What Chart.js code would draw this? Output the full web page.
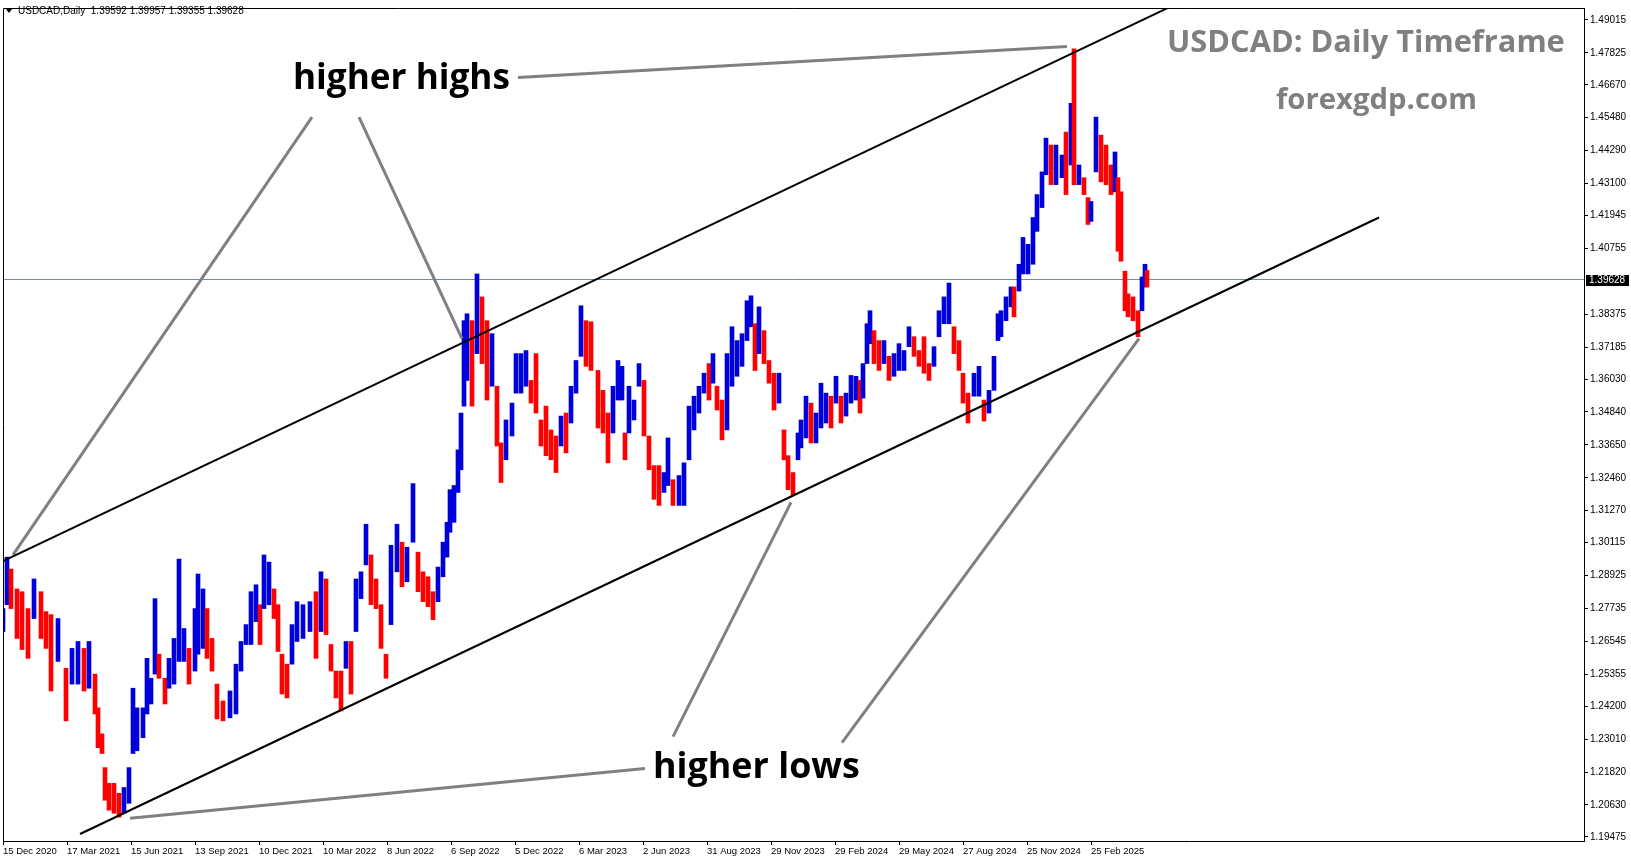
<!DOCTYPE html>
<html>
<head>
<meta charset="utf-8">
<title>USDCAD Daily</title>
<script src="https://cdn.jsdelivr.net/npm/chart.js@4.4.1/dist/chart.umd.min.js"></script>
<style>
  html, body { margin:0; padding:0; background:#fff; }
  #wrap { width:1631px; height:861px; }
</style>
</head>
<body>
<div id="wrap"><canvas id="chart" width="1631" height="861"></canvas></div>
<script>
// bar index = trading days since 15 Dec 2020, prices
const barIndex = [0,4,8,14,19,25,31,38,43,48,55,63,69,75,81,86,92,95,99,102,106,111,116,121,126,130,134,140,144,148,152,156,162,166,171,176,181,186,192,195,200,204,209,214,220,227,233,238,243,248,253,257,261,266,271,275,279,284,289,294,300,307,313,318,323,328,333,338,343,348,353,358,363,368,373,378,383,388,394,399,404,410,415,420,425,430,435,440,444,447,451,455,458,461,464,469,474,479,484,489,494,498,503,509,513,518,523,528,533,538,543,548,553,558,563,568,573,578,583,588,595,600,605,610,615,619,622,626,631,636,641,646,651,656,661,665,670,676,681,686,691,696,701,706,710,714,719,724,729,734,739,744,748,752,756,761,766,771,776,781,785,790,795,798,803,808,813,818,823,828,833,838,843,848,853,857,860,864,867,871,876,881,886,891,896,901,906,911,916,921,926,931,936,941,946,951,956,960,965,971,976,981,986,991,995,998,1003,1008,1011,1016,1020,1025,1030,1034,1039,1043,1048,1053,1059,1063,1068,1071,1076,1081,1085,1088,1093,1098,1103,1108,1112,1115,1118,1122,1125,1130,1135,1139,1142,1144];
const barHigh = [1.2773,1.2959,1.2916,1.2844,1.2834,1.2773,1.2880,1.2834,1.2762,1.2751,1.2737,1.2557,1.2629,1.2654,1.2629,1.2654,1.2536,1.2414,1.2320,1.2198,1.2141,1.2141,1.2105,1.2126,1.2198,1.2485,1.2414,1.2414,1.2593,1.2521,1.2809,1.2608,1.2521,1.2593,1.2665,1.2952,1.2701,1.2629,1.2773,1.2898,1.2844,1.2773,1.2665,1.2500,1.2439,1.2475,1.2572,1.2654,1.2715,1.2834,1.2859,1.2787,1.2967,1.2941,1.2844,1.2787,1.2608,1.2572,1.2715,1.2798,1.2787,1.2798,1.2834,1.2906,1.2880,1.2643,1.2547,1.2547,1.2654,1.2654,1.2880,1.2906,1.3078,1.2967,1.2880,1.2787,1.2608,1.3002,1.3078,1.3013,1.2995,1.3225,1.2977,1.2906,1.2888,1.2834,1.2923,1.3013,1.3085,1.3203,1.3218,1.3347,1.3480,1.3814,1.3839,1.3814,1.3983,1.3900,1.3814,1.3767,1.3577,1.3372,1.3455,1.3516,1.3695,1.3695,1.3706,1.3598,1.3695,1.3455,1.3505,1.3419,1.3397,1.3469,1.3480,1.3577,1.3670,1.3868,1.3814,1.3810,1.3634,1.3562,1.3480,1.3577,1.3670,1.3649,1.3408,1.3577,1.3527,1.3659,1.3598,1.3397,1.3290,1.3290,1.3265,1.3390,1.3239,1.3254,1.3300,1.3505,1.3541,1.3577,1.3624,1.3659,1.3695,1.3577,1.3527,1.3695,1.3792,1.3742,1.3767,1.3886,1.3904,1.3803,1.3864,1.3778,1.3670,1.3624,1.3624,1.3419,1.3326,1.3265,1.3408,1.3455,1.3541,1.3516,1.3480,1.3588,1.3552,1.3541,1.3613,1.3541,1.3552,1.3616,1.3613,1.3598,1.3659,1.3803,1.3850,1.3778,1.3742,1.3742,1.3685,1.3695,1.3731,1.3706,1.3792,1.3756,1.3706,1.3756,1.3659,1.3720,1.3850,1.3900,1.3950,1.3792,1.3742,1.3624,1.3552,1.3624,1.3649,1.3527,1.3562,1.3685,1.3839,1.3850,1.3900,1.3936,1.3936,1.4018,1.4115,1.4090,1.4187,1.4270,1.4352,1.4474,1.4449,1.4449,1.4413,1.4496,1.4600,1.4797,1.4377,1.4331,1.4259,1.4245,1.4550,1.4485,1.4449,1.4377,1.4424,1.4331,1.4280,1.3993,1.3911,1.3900,1.3850,1.3972,1.4018,1.39957];
const barLow = [1.2690,1.2787,1.2773,1.2665,1.2625,1.2593,1.2737,1.2665,1.2629,1.2475,1.2582,1.2367,1.2500,1.2500,1.2475,1.2485,1.2392,1.2270,1.2249,1.2080,1.2044,1.2033,1.2019,1.2033,1.2069,1.2249,1.2259,1.2306,1.2392,1.2428,1.2536,1.2521,1.2428,1.2485,1.2500,1.2582,1.2582,1.2500,1.2547,1.2608,1.2629,1.2593,1.2547,1.2374,1.2367,1.2378,1.2392,1.2547,1.2643,1.2643,1.2726,1.2643,1.2773,1.2787,1.2737,1.2618,1.2464,1.2450,1.2572,1.2654,1.2665,1.2690,1.2593,1.2690,1.2679,1.2547,1.2450,1.2403,1.2557,1.2464,1.2690,1.2809,1.2931,1.2787,1.2773,1.2629,1.2521,1.2715,1.2906,1.2852,1.2870,1.3013,1.2834,1.2798,1.2780,1.2733,1.2798,1.2888,1.2959,1.3049,1.3085,1.3193,1.3275,1.3505,1.3598,1.3505,1.3695,1.3659,1.3527,1.3577,1.3361,1.3229,1.3311,1.3397,1.3552,1.3552,1.3577,1.3516,1.3480,1.3361,1.3326,1.3311,1.3265,1.3361,1.3336,1.3444,1.3552,1.3685,1.3649,1.3634,1.3426,1.3408,1.3300,1.3408,1.3527,1.3527,1.3311,1.3408,1.3455,1.3577,1.3397,1.3275,1.3168,1.3146,1.3193,1.3218,1.3146,1.3146,1.3146,1.3311,1.3419,1.3480,1.3552,1.3527,1.3588,1.3491,1.3383,1.3419,1.3577,1.3613,1.3649,1.3742,1.3792,1.3634,1.3695,1.3659,1.3588,1.3491,1.3516,1.3311,1.3203,1.3182,1.3311,1.3354,1.3390,1.3372,1.3372,1.3426,1.3444,1.3426,1.3516,1.3444,1.3469,1.3516,1.3527,1.3480,1.3534,1.3659,1.3731,1.3659,1.3634,1.3659,1.3598,1.3613,1.3634,1.3634,1.3720,1.3685,1.3649,1.3624,1.3598,1.3649,1.3756,1.3803,1.3803,1.3695,1.3634,1.3516,1.3444,1.3541,1.3541,1.3451,1.3480,1.3562,1.3742,1.3756,1.3814,1.3864,1.3828,1.3921,1.3983,1.3983,1.4018,1.4137,1.4223,1.4342,1.4306,1.4306,1.4331,1.4270,1.4377,1.4306,1.4306,1.4270,1.4162,1.4173,1.4352,1.4316,1.4306,1.4270,1.4280,1.4065,1.4029,1.3850,1.3828,1.3814,1.3756,1.3850,1.3936,1.39355];

const lastPrice = 1.39628;

const dateTickIndex = [0,64,128,192,256,320,384,448,512,576,640,704,768,832,896,960,1024,1088];
const dateTickLabels = ['15 Dec 2020','17 Mar 2021','15 Jun 2021','13 Sep 2021','10 Dec 2021','10 Mar 2022','8 Jun 2022','6 Sep 2022','5 Dec 2022','6 Mar 2023','2 Jun 2023','31 Aug 2023','29 Nov 2023','29 Feb 2024','29 May 2024','27 Aug 2024','25 Nov 2024','25 Feb 2025'];
const priceTicks = [1.19475,1.20630,1.21820,1.23010,1.24200,1.25355,1.26545,1.27735,1.28925,1.30115,1.31270,1.32460,1.33650,1.34840,1.36030,1.37185,1.38375,1.40755,1.41945,1.43100,1.44290,1.45480,1.46670,1.47825,1.49015];

// channel trend lines and the grey pointer lines, in (bar index, price)
const upperChannel = [{x:0,y:1.2945},{x:1165,y:1.4945}];
const lowerChannel = [{x:77,y:1.1958},{x:1376,y:1.4187}];
const pointerLines = [
  [{x:515,y:1.4693},{x:1064,y:1.4805}],
  [{x:309,y:1.4550},{x:10,y:1.2967}],
  [{x:356,y:1.4550},{x:459,y:1.3749}],
  [{x:642,y:1.2195},{x:127,y:1.2015}],
  [{x:670,y:1.2310},{x:788,y:1.3157}],
  [{x:839,y:1.2288},{x:1136,y:1.3749}]
];

const BLUE = '#0000dd', RED = '#ff0000';
// red when the bar's low sits below the previous one
const barColors = barIndex.map((_, i) => (i > 0 && barLow[i] < barLow[i-1]) ? RED : BLUE);

Chart.defaults.font.family = "'Liberation Sans', Arial, sans-serif";
Chart.defaults.color = '#000';

function lineSet(data, color, width, order){
  return { type:'line', data, borderColor:color, borderWidth:width, pointRadius:0, tension:0, fill:false, order };
}

function fitText(ctx, txt, weight, family, x0, x1, cy, color){
  ctx.font = `${weight} 100px ${family}`;
  const size = 100 * (x1 - x0) / ctx.measureText(txt).width;
  ctx.font = `${weight} ${size}px ${family}`;
  ctx.fillStyle = color;
  ctx.textAlign = 'left';
  ctx.textBaseline = 'middle';
  ctx.fillText(txt, x0, cy);
}

const decor = {
  id: 'decor',
  beforeDraw(chart){
    const c = chart.ctx;
    c.save();
    c.fillStyle = '#fff';
    c.fillRect(0, 0, chart.width, chart.height);
    c.restore();
  },
  afterDraw(chart){
    const c = chart.ctx, a = chart.chartArea, y = chart.scales.y;
    c.save();
    // frame top/left
    c.strokeStyle = '#000';
    c.lineWidth = 1;
    c.beginPath();
    c.moveTo(a.left + 0.5, a.bottom);
    c.lineTo(a.left + 0.5, a.top + 0.5);
    c.lineTo(a.right, a.top + 0.5);
    c.stroke();

    // header
    c.fillStyle = '#000';
    c.beginPath();
    c.moveTo(6, 9); c.lineTo(12, 9); c.lineTo(9, 13); c.closePath();
    c.fill();
    c.font = "10px 'Liberation Sans', Arial, sans-serif";
    c.textAlign = 'left';
    c.textBaseline = 'middle';
    c.fillText('USDCAD,Daily  1.39592 1.39957 1.39355 1.39628', 18, 11);

    // last price label
    const py = Math.round(y.getPixelForValue(lastPrice));
    c.fillStyle = '#000';
    c.fillRect(a.right + 2, py - 5, 43, 11);
    c.fillStyle = '#fff';
    c.fillText(lastPrice.toFixed(5), a.right + 5, py + 0.5);

    // annotations
    const fam = "'Open Sans', 'Liberation Sans', sans-serif";
    fitText(c, 'higher highs', 'bold', fam, 293, 510, 79, '#000');
    fitText(c, 'higher lows', 'bold', fam, 653, 860, 768, '#000');
    fitText(c, 'USDCAD: Daily Timeframe', 'bold', fam, 1167, 1565, 43, '#808080');
    fitText(c, 'forexgdp.com', 'bold', fam, 1276, 1477, 101, '#808080');
    c.restore();
  }
};

const datasets = [
  {
    type:'bar',
    data: barIndex.map((x, i) => ({ x, y:[barLow[i], barHigh[i]] })),
    backgroundColor: barColors,
    borderWidth: 0,
    barThickness: 4,
    grouped: false,
    order: 1
  },
  lineSet([{x:0,y:lastPrice},{x:1581,y:lastPrice}], '#778899', 1, 2),
  lineSet(upperChannel, '#000', 2, 0),
  lineSet(lowerChannel, '#000', 2, 0)
].concat(pointerLines.map(p => lineSet(p, '#808080', 3, 0)));

new Chart(document.getElementById('chart'), {
  type: 'bar',
  data: { datasets },
  plugins: [decor],
  options: {
    responsive: false,
    animation: false,
    devicePixelRatio: 1,
    layout: { padding: { left: 3, top: 2, right: 0, bottom: 0 } },
    plugins: { legend: { display:false }, tooltip: { enabled:false } },
    scales: {
      x: {
        type: 'linear',
        min: 0, max: 1581,
        offset: false,
        grid: { drawOnChartArea:false, tickLength:4, color:'#000', offset:false },
        border: { display:true, color:'#000', width:1 },
        afterBuildTicks: s => { s.ticks = dateTickIndex.map(v => ({ value:v })); },
        afterFit: s => { s.height = 20; },
        ticks: {
          autoSkip: false, maxRotation: 0, align: 'start', padding: 1,
          font: { size: 9.5 },
          callback: v => dateTickLabels[dateTickIndex.indexOf(v)]
        }
      },
      y: {
        type: 'linear',
        position: 'right',
        min: 1.19326, max: 1.49446,
        grid: { drawOnChartArea:false, tickLength:4, color:'#000' },
        border: { display:true, color:'#000', width:1 },
        afterBuildTicks: s => { s.ticks = priceTicks.map(v => ({ value:v })); },
        afterFit: s => { s.width = 47; },
        ticks: {
          autoSkip: false, padding: 2,
          font: { size: 10 },
          callback: v => v.toFixed(5)
        }
      }
    }
  }
});
</script>
</body>
</html>
